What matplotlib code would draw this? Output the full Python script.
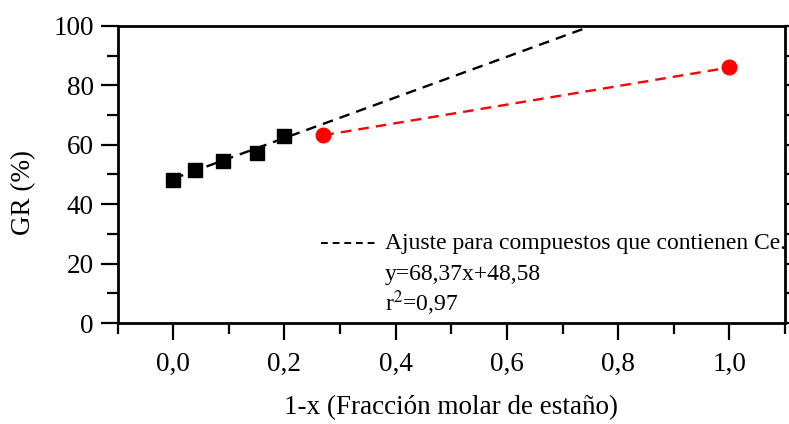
import matplotlib.pyplot as plt
from matplotlib.ticker import MultipleLocator, FuncFormatter

# data
x_ce = [0.0, 0.04, 0.09, 0.15, 0.20]
gr_ce = [48.1, 51.5, 54.6, 57.1, 63.0]
x_other = [0.27, 1.0]
gr_other = [63.2, 86.0]
slope, intercept = 68.37, 48.58
fit_x = [0.0, 1.1]

plt.rcParams['font.family'] = ['Liberation Serif', 'DejaVu Serif']
plt.rcParams['mathtext.fontset'] = 'stix'
plt.rcParams['font.size'] = 19

fig = plt.figure(figsize=(7.89, 4.24), dpi=100)
ax = fig.add_axes([0.149, 0.238, 0.846, 0.701])

fit_y = [slope * v + intercept for v in fit_x]
ax.plot(fit_x, fit_y, color='black', ls=(0, (4.5, 3)), lw=1.7, zorder=2)
ax.plot(x_other, gr_other, color='red', ls=(0, (4.5, 3)), lw=1.7, zorder=2)
ax.plot(x_ce, gr_ce, ls='none', marker='s', ms=10, color='black', zorder=3)
ax.plot(x_other, gr_other, ls='none', marker='o', ms=10.5, color='red', zorder=3)

ax.set_xlim(-0.1, 1.1)
ax.set_ylim(0, 100)
ax.xaxis.set_major_locator(MultipleLocator(0.2))
ax.xaxis.set_minor_locator(MultipleLocator(0.1))
ax.yaxis.set_major_locator(MultipleLocator(20))
ax.yaxis.set_minor_locator(MultipleLocator(10))
ax.xaxis.set_major_formatter(FuncFormatter(lambda v, p: f'{v:.1f}'.replace('.', ',')))
ax.tick_params(which='both', direction='out', width=1.6, labelsize=19.5,
               right=True, top=False)
ax.tick_params(which='major', length=12)
ax.tick_params(which='minor', length=8)
ax.tick_params(axis='x', pad=9)
ax.tick_params(axis='y', pad=5)
for s in ax.spines.values():
    s.set_linewidth(2)

ax.set_xlabel('1-x (Fracción molar de estaño)', fontsize=19.5, labelpad=13)
ax.set_ylabel('GR (%)', fontsize=19.5)
ax.yaxis.set_label_coords(-0.122, 0.44)

# legend-like annotation
ax.plot([0.265, 0.367], [26.8, 26.8], color='black', ls=(0, (3.5, 2.5)), lw=1.4)
ax.text(0.38, 26.8, 'Ajuste para compuestos que contienen Ce.', va='center',
        ha='left', fontsize=17)
ax.text(0.38, 16.2, 'y=68,37x+48,58', va='center', ha='left', fontsize=17)
ax.text(0.38, 6.6, r'r$^{2}$=0,97', va='center', ha='left', fontsize=17)

fig.savefig('out.png', dpi=100)
